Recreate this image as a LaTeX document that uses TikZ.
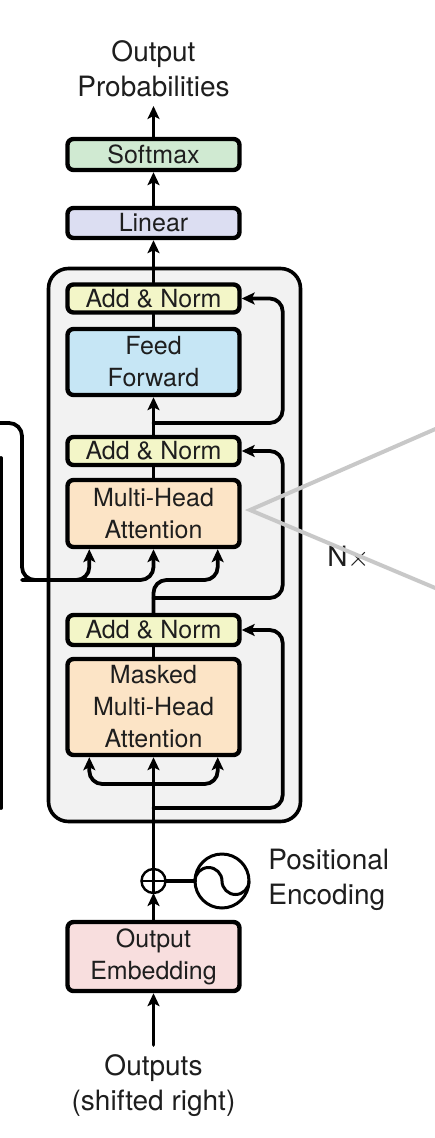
\documentclass[tikz,border=0pt]{standalone}
\usepackage{fontspec}
\setmainfont{TeX Gyre Heros}
\usetikzlibrary{arrows.meta,calc}

\definecolor{smgreen}{RGB}{208,234,210}
\definecolor{linblue}{RGB}{220,222,242}
\definecolor{normyel}{RGB}{243,246,200}
\definecolor{ffblue}{RGB}{198,230,245}
\definecolor{attorange}{RGB}{252,228,198}
\definecolor{embpink}{RGB}{248,222,222}
\definecolor{layergray}{RGB}{242,242,242}
\definecolor{fangray}{RGB}{200,200,200}
\definecolor{ink}{RGB}{30,30,30}

\begin{document}
\begin{tikzpicture}[x=0.5pt, y=-0.5pt, line cap=round, line join=round,
  blk/.style={draw, line width=2.2pt, rounded corners=3pt, minimum width=86pt,
    align=center, inner sep=0pt, text=ink, font=\fontsize{12.5}{16}\selectfont},
  lbl/.style={align=center, inner sep=4.5pt, text=ink, font=\fontsize{14}{17.5}\selectfont},
  wire/.style={line width=1.9pt},
  arr/.style={wire, -{Stealth[length=6.5pt,width=6pt,inset=1.5pt]}},
  res/.style={arr, rounded corners=6.5pt}]
\useasboundingbox (0,0) rectangle (434,1138);

% decoder layer
\node[draw, line width=1.8pt, rounded corners=10pt, fill=layergray,
  minimum width=126pt, minimum height=276.5pt] (layer) at (174.5,545) {};

\node[blk, fill=smgreen, minimum height=15.5pt] (soft) at (153.5,154.5) {Softmax};
\node[blk, fill=linblue, minimum height=15pt] (lin) at (153.5,223) {Linear};
\node[blk, fill=normyel, minimum height=14pt] (an1) at (153.5,298.5) {Add \& Norm};
\node[blk, fill=ffblue, minimum height=33pt] (ff) at (153.5,362) {Feed\\Forward};
\node[blk, fill=normyel, minimum height=14pt] (an2) at (153.5,451) {Add \& Norm};
\node[blk, fill=attorange, minimum height=33.5pt] (mha) at (153.5,513.5) {Multi-Head\\Attention};
\node[blk, fill=normyel, minimum height=15pt] (an3) at (153.5,630) {Add \& Norm};
\node[blk, fill=attorange, minimum height=48pt] (mmha) at (153.5,707) {Masked\\Multi-Head\\Attention};
\node[blk, fill=embpink, minimum height=34.5pt] (emb) at (153.5,956.5) {Output\\Embedding};

\node[draw, circle, line width=1.2pt, minimum size=12pt, inner sep=0pt, outer sep=0pt, fill=white] (add) at (153.5,881) {};
\node[draw, circle, line width=1.5pt, minimum size=27pt, inner sep=0pt, outer sep=0pt] (pe) at (222,881) {};

\node[lbl, anchor=south] (prob) at (153.5,106) {Output\\Probabilities};
\node[lbl, anchor=north] (outs) at (153.5,1045) {Outputs\\(shifted right)};
\node[lbl, anchor=west, align=left, inner sep=0pt] (pel) at (268,880) {Positional\\Encoding};
\node[lbl, anchor=west, inner sep=0pt] (nx) at (327,557) {N$\times$};

\coordinate (r1) at (153.5,423);
\coordinate (r2) at (153.5,598);
\coordinate (r3) at (153.5,808);
\coordinate (j) at (153.5,784);
\coordinate (dq) at (153.5,580);
\coordinate (enc) at (-4,423);
\coordinate (encbend) at (22,580);
\coordinate (encT) at (1,458);
\coordinate (encB) at (1,808);

% main path
\draw[arr] (soft) -- (prob);
\draw[arr] (lin) -- (soft);
\draw[arr] (an1) -- (lin);
\draw[wire] (ff) -- (an1);
\draw[arr] (an2) -- (ff);
\draw[wire] (mha) -- (an2);
\draw[wire] (mmha) -- (an3);
\draw[arr] (add) -- (mmha);
\draw[arr] (emb) -- (add);
\draw[arr] (outs) -- (emb);
\draw[wire] (add) -- (pe);

% residuals
\draw[res] (r1) -| ($(an1.east)+(41,0)$) -- (an1.east);
\draw[res] (r2) -| ($(an2.east)+(41,0)$) -- (an2.east);
\draw[res] (r3) -| ($(an3.east)+(41,0)$) -- (an3.east);

% attention inputs
\draw[res] (enc) -| (encbend) -| ($(mha.south west)+(24,0)$);
\draw[res] (encbend) -| (mha.south);
\draw[res] (an3.north) -- (dq) -| ($(mha.south east)+(-24,0)$);
\draw[res] (j) -| ($(mmha.south west)+(24,0)$);
\draw[res] (j) -| ($(mmha.south east)+(-24,0)$);
\draw[wire] (encT) -- (encB);

% plus and sinusoid
\draw[line width=1.2pt] (add.north) -- (add.south) (add.west) -- (add.east);
\draw[line width=1.5pt] (pe.west) arc[start angle=180, end angle=0, radius=6.75pt]
  arc[start angle=180, end angle=360, radius=6.75pt];

% zoom fan
\coordinate (g0) at (250,510);
\coordinate (g1) at (440,427);
\coordinate (g2) at (440,590);
\draw[fangray, line width=2pt, line join=miter] (g1) -- (g0) -- (g2);
\end{tikzpicture}
\end{document}
